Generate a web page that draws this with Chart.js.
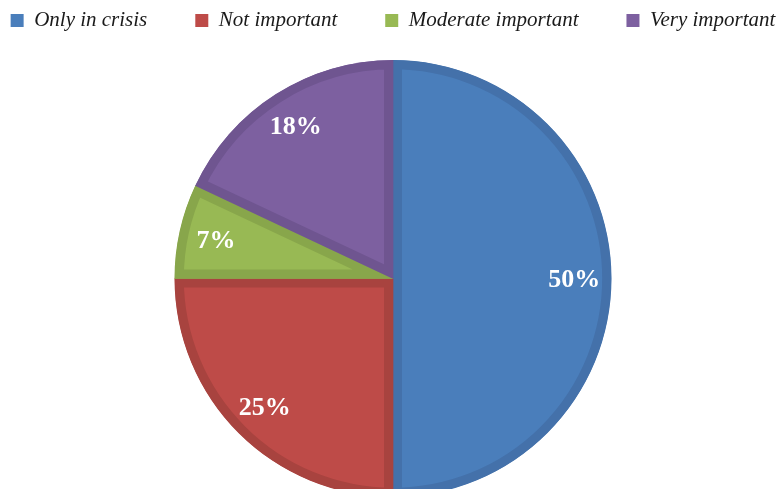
<!DOCTYPE html>
<html>
<head>
<meta charset="utf-8">
<script src="https://cdn.jsdelivr.net/npm/chart.js@4"></script>
<style>
  html, body { margin: 0; padding: 0; background: #ffffff; overflow: hidden; }
  #wrap { width: 779px; height: 489px; overflow: hidden; position: relative; }
  canvas { display: block; }
</style>
</head>
<body>
<div id="wrap"><canvas id="c" width="779" height="497"></canvas></div>
<script>
const categories = ['Only in crisis', 'Not important', 'Moderate important', 'Very important'];
const shares = [50, 25, 7, 18];

const fillColors = ['#4a7ebb', '#be4b48', '#98b954', '#7d60a0'];
const edgeColors = ['#4471aa', '#a8433f', '#88a64b', '#6f5590'];

const LEGEND_HEIGHT = 60;
const LEGEND_SHIFT = 38;

const legendTweak = {
  id: 'legendTweak',
  beforeLayout(chart) {
    const lg = chart.legend;
    if (!lg || lg._tweaked) return;
    lg._tweaked = true;
    const fit = lg.fit;
    lg.fit = function () {
      const mw = this.maxWidth;
      this.maxWidth = 5000;
      fit.call(this);
      this.maxWidth = mw;
      this.width = mw;
      this.height = LEGEND_HEIGHT;
    };
    const draw = lg._draw;
    lg._draw = function () {
      const ctx = this.ctx;
      const l = this.left, r = this.right;
      this.left = l - 300;
      this.right = r + 300;
      ctx.save();
      ctx.translate(0, -LEGEND_SHIFT);
      draw.call(this);
      ctx.restore();
      this.left = l;
      this.right = r;
    };
  }
};

const sliceLabels = {
  id: 'sliceLabels',
  afterDatasetsDraw(chart) {
    const ctx = chart.ctx;
    const meta = chart.getDatasetMeta(0);
    const data = chart.data.datasets[0].data;
    ctx.save();
    ctx.font = 'bold 26px "Liberation Serif", "Times New Roman", serif';
    ctx.fillStyle = '#ffffff';
    ctx.textAlign = 'center';
    ctx.textBaseline = 'middle';
    meta.data.forEach((arc, i) => {
      const p = arc.getProps(['x', 'y', 'startAngle', 'endAngle', 'outerRadius'], true);
      const mid = (p.startAngle + p.endAngle) / 2;
      const r = p.outerRadius * 0.83;
      ctx.fillText(data[i] + '%', p.x + Math.cos(mid) * r, p.y + Math.sin(mid) * r + 2);
    });
    ctx.restore();
  }
};

new Chart(document.getElementById('c'), {
  type: 'pie',
  data: {
    labels: categories,
    datasets: [{
      data: shares,
      backgroundColor: fillColors,
      borderColor: edgeColors,
      borderWidth: 9,
      borderAlign: 'inner'
    }]
  },
  options: {
    responsive: false,
    animation: false,
    events: [],
    layout: { padding: { left: 7, right: 0, top: 0, bottom: 0 } },
    plugins: {
      tooltip: { enabled: false },
      legend: {
        position: 'top',
        align: 'center',
        labels: {
          boxWidth: 13,
          boxHeight: 13,
          padding: 48,
          color: '#1a1a1a',
          font: { family: '"Liberation Serif", "Times New Roman", serif', size: 21, style: 'italic' },
          generateLabels(chart) {
            const ds = chart.data.datasets[0];
            return chart.data.labels.map((lab, i) => ({
              text: lab,
              fillStyle: ds.backgroundColor[i],
              strokeStyle: ds.backgroundColor[i],
              lineWidth: 0,
              fontColor: '#1a1a1a',
              hidden: false,
              index: i
            }));
          }
        }
      }
    }
  },
  plugins: [legendTweak, sliceLabels]
});
</script>
</body>
</html>
